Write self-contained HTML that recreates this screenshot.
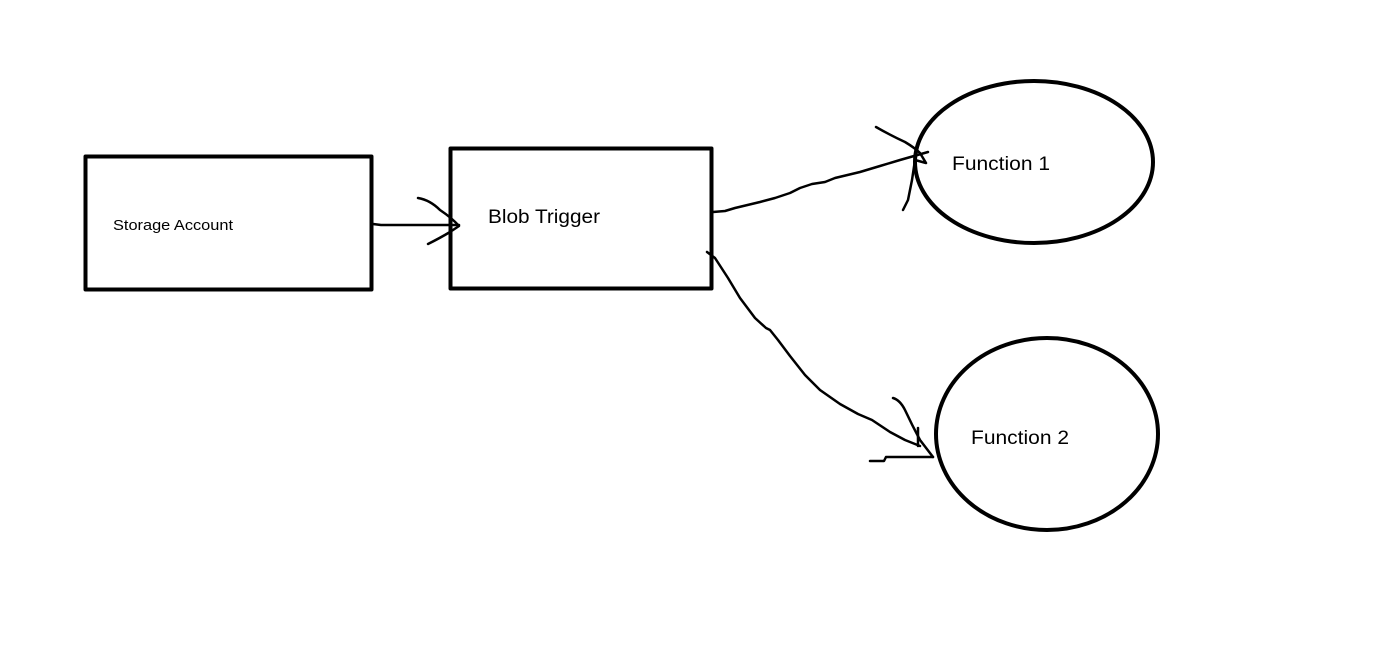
<!DOCTYPE html>
<html><head><style>
html,body{margin:0;padding:0;background:#fff;}
svg{display:block;}
text{font-family:"Liberation Sans","DejaVu Sans",sans-serif;fill:#000;}
</style></head><body>
<svg width="1394" height="660" viewBox="0 0 1394 660" xmlns="http://www.w3.org/2000/svg">
<g fill="none" stroke="#000" stroke-linecap="round" stroke-linejoin="round">
<rect x="85.5" y="156.5" width="286" height="133" stroke-width="4"/>
<rect x="450.5" y="148.5" width="261" height="140" stroke-width="4"/>
<ellipse cx="1034" cy="162" rx="119" ry="81" stroke-width="4"/>
<ellipse cx="1047" cy="434" rx="111" ry="96" stroke-width="4"/>
<g stroke-width="2.5">
<path d="M373 224 L381 225 L459 225"/>
<path d="M418 198 Q430 200 440 210 Q452 218 459 226 L450 232 Q440 238 428 244"/>
<path d="M713 212 L725 211 L735 208 L760 202 L775 198 L790 193 L800 188 L812 184 L825 182 L835 178 L860 172 L880 166 L900 160 L914 156 L928 152"/>
<path d="M876 127 Q890 135 905 142 Q915 148 920 153 L926 163 L915 160 L912 180 L908 200 L903 210"/>
<path d="M707 252 L715 258 L728 278 L740 298 L755 318 L766 328 L770 330 L778 340 L790 356 L805 375 L820 390 L840 404 L858 414 L872 420 L890 432 L905 440 L920 446"/>
<path d="M893 398 Q900 400 905 410 Q912 425 920 440 L933 457"/>
<path d="M870 461 L884 461 L886 457 L933 457"/>
<path d="M918 428 L918 446"/>
</g>
</g>
<text x="113" y="230" font-size="15" textLength="120" lengthAdjust="spacingAndGlyphs">Storage Account</text>
<text x="488" y="223" font-size="19" textLength="112" lengthAdjust="spacingAndGlyphs">Blob Trigger</text>
<text x="952" y="170" font-size="19" textLength="98" lengthAdjust="spacingAndGlyphs">Function 1</text>
<text x="971" y="444" font-size="19" textLength="98" lengthAdjust="spacingAndGlyphs">Function 2</text>
</svg>
</body></html>
